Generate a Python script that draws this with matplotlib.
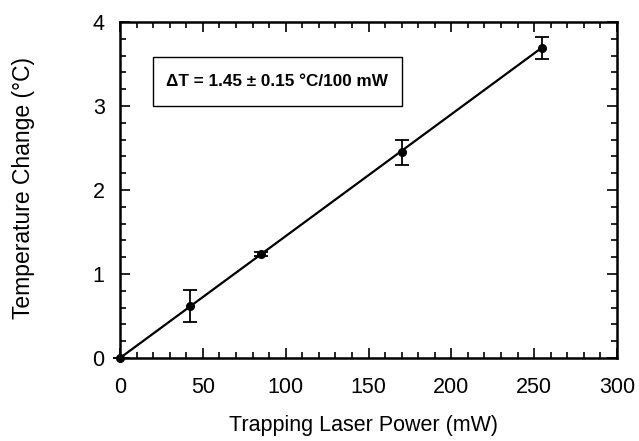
import numpy as np
import matplotlib.pyplot as plt
from matplotlib.ticker import MultipleLocator
from matplotlib.patches import Rectangle

plt.rcParams['font.family'] = ['Liberation Sans', 'DejaVu Sans']

# measured points
power = [0, 42, 85, 170, 255]
temp_change = [0.0, 0.62, 1.24, 2.45, 3.69]
temp_err = [0.0, 0.19, 0.02, 0.15, 0.13]

# linear fit
fit_power = [0, 255]
fit_temp = [0.0, 3.70]

fig = plt.figure(figsize=(6.39, 4.41), dpi=100)
ax = fig.add_axes([0.1878, 0.1882, 0.7778, 0.7618])

ax.plot(fit_power, fit_temp, color='black', lw=1.6, zorder=2)
ax.errorbar(power, temp_change, yerr=temp_err, fmt='o', color='black',
            ms=5.5, capsize=5, elinewidth=1.3, capthick=1.3, zorder=3,
            clip_on=False)

ax.set_xlim(0, 300)
ax.set_ylim(0, 4)
ax.xaxis.set_major_locator(MultipleLocator(50))
ax.xaxis.set_minor_locator(MultipleLocator(10))
ax.yaxis.set_major_locator(MultipleLocator(1))
ax.yaxis.set_minor_locator(MultipleLocator(0.2))
ax.tick_params(which='both', direction='in', top=True, right=True,
               width=1.2, labelsize=15.5)
ax.tick_params(axis='x', pad=14)
ax.tick_params(axis='y', pad=11)
ax.tick_params(which='major', length=7)
ax.tick_params(which='minor', length=4)
for s in ax.spines.values():
    s.set_linewidth(1.8)

ax.set_xlabel('Trapping Laser Power (mW)', fontsize=15.5)
ax.set_ylabel('Temperature Change (°C)', fontsize=16.5)
ax.xaxis.set_label_coords(0.49, -0.17)
ax.yaxis.set_label_coords(-0.172, 0.506)

# annotation box
ax.add_patch(Rectangle((20, 3.0), 150, 0.58, fill=False, ec='black', lw=1.0))
ax.text(95, 3.29, 'ΔT = 1.45 ± 0.15 °C/100 mW', fontsize=12.3,
        fontweight='bold', ha='center', va='center')

fig.savefig('out.png', dpi=100)
